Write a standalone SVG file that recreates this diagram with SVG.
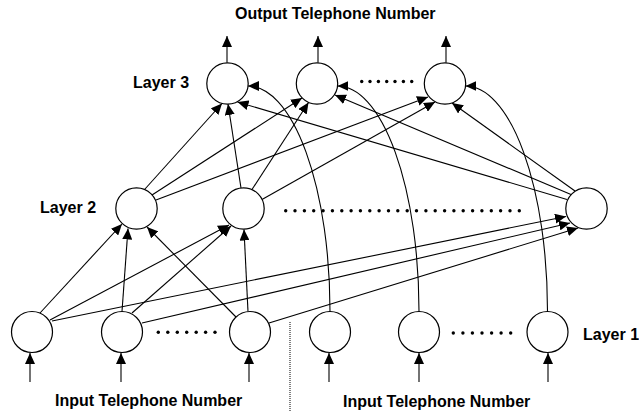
<svg xmlns="http://www.w3.org/2000/svg" width="639" height="414" viewBox="0 0 639 414">
<style>
.n{fill:#fff;stroke:#000;stroke-width:1.2}
.c{fill:none;stroke:#000;stroke-width:1.1;marker-end:url(#ah)}
.t{font-family:"Liberation Sans",Arial,sans-serif;font-weight:bold;font-size:16px;fill:#000}
.d{fill:#000}
</style>
<defs>
<marker id="ah" markerWidth="11" markerHeight="10" refX="11" refY="5" orient="auto" markerUnits="userSpaceOnUse"><path d="M0,0 L11,5 L0,10 z" fill="#000"/></marker>
</defs>
<rect width="639" height="414" fill="#fff"/>
<g id="connectors">
<!-- layer 1 to layer 2 -->
<line class="c" x1="40" y1="313" x2="122" y2="224"/>
<line class="c" x1="50" y1="320" x2="229" y2="225"/>
<line class="c" x1="52" y1="321" x2="566" y2="216.5"/>
<line class="c" x1="122" y1="311.5" x2="128" y2="228.5"/>
<line class="c" x1="132" y1="313" x2="231" y2="226"/>
<line class="c" x1="142" y1="323" x2="570" y2="223"/>
<line class="c" x1="236" y1="317" x2="147" y2="227"/>
<line class="c" x1="248" y1="311.5" x2="244" y2="229.5"/>
<line class="c" x1="269" y1="323" x2="578" y2="228"/>
<!-- layer 2 to layer 3 -->
<line class="c" x1="145" y1="189" x2="222" y2="103.5"/>
<line class="c" x1="152" y1="195" x2="302" y2="98"/>
<line class="c" x1="156" y1="200" x2="428" y2="97"/>
<line class="c" x1="241" y1="188" x2="228" y2="104"/>
<line class="c" x1="252" y1="189.5" x2="308.5" y2="102.5"/>
<line class="c" x1="262" y1="199.5" x2="435" y2="102"/>
<line class="c" x1="567" y1="199.5" x2="237.5" y2="102"/>
<line class="c" x1="571" y1="194.5" x2="335" y2="95"/>
<line class="c" x1="575" y1="191" x2="452" y2="103"/>
<!-- layer 1 (right) to layer 3 -->
<path class="c" d="M330,311.5 A82,225 0 0 0 248,86"/>
<path class="c" d="M419,311.5 A81.5,225 0 0 0 337.5,86"/>
<path class="c" d="M547.5,311.5 A82,225 0 0 0 465.5,86"/>
<!-- outputs -->
<line class="c" x1="227" y1="62.8" x2="227" y2="36"/>
<line class="c" x1="318" y1="62.8" x2="318" y2="36"/>
<line class="c" x1="446" y1="62.8" x2="446" y2="36"/>
<!-- inputs -->
<line class="c" x1="30" y1="382" x2="30" y2="353"/>
<line class="c" x1="121" y1="382" x2="121" y2="353"/>
<line class="c" x1="249" y1="382" x2="249" y2="353"/>
<line class="c" x1="329" y1="382" x2="329" y2="353"/>
<line class="c" x1="419" y1="382" x2="419" y2="353"/>
<line class="c" x1="548" y1="382" x2="548" y2="353"/>
<line x1="290" y1="322" x2="290" y2="412" stroke="#000" stroke-width="1" stroke-dasharray="1,1"/>
</g>
<g id="layer3">
<g id="e1"><circle class="n" cx="227.5" cy="83.5" r="20.7"/></g>
<g id="e2"><circle class="n" cx="317" cy="83.5" r="20.7"/></g>
<g id="e3"><circle class="n" cx="445" cy="83.5" r="20.7"/></g>
</g>
<g id="layer2">
<g id="d1"><circle class="n" cx="136.5" cy="208.5" r="20.7"/></g>
<g id="d2"><circle class="n" cx="243.5" cy="208.5" r="20.7"/></g>
<g id="d3"><circle class="n" cx="586.5" cy="208.5" r="20.7"/></g>
</g>
<g id="layer1">
<g id="c1"><circle class="n" cx="32" cy="332" r="20.5"/></g>
<g id="c2"><circle class="n" cx="122" cy="332" r="20.5"/></g>
<g id="c3"><circle class="n" cx="250" cy="332" r="20.5"/></g>
<g id="c4"><circle class="n" cx="330" cy="332" r="20.5"/></g>
<g id="c5"><circle class="n" cx="419" cy="332" r="20.5"/></g>
<g id="c6"><circle class="n" cx="547.5" cy="332" r="20.5"/></g>
</g>
<g id="dots">
<g class="d">
<circle cx="361.7" cy="81.5" r="1.7"/><circle cx="370" cy="81.5" r="1.7"/><circle cx="378.4" cy="81.5" r="1.7"/><circle cx="386.7" cy="81.5" r="1.7"/><circle cx="395" cy="81.5" r="1.7"/><circle cx="403.4" cy="81.5" r="1.7"/><circle cx="411.7" cy="81.5" r="1.7"/>
</g>
<g class="d">
<circle cx="285.7" cy="210.7" r="1.7"/><circle cx="295.0" cy="210.7" r="1.7"/><circle cx="304.4" cy="210.7" r="1.7"/><circle cx="313.7" cy="210.7" r="1.7"/><circle cx="323.1" cy="210.7" r="1.7"/><circle cx="332.4" cy="210.7" r="1.7"/><circle cx="341.8" cy="210.7" r="1.7"/><circle cx="351.1" cy="210.7" r="1.7"/><circle cx="360.4" cy="210.7" r="1.7"/><circle cx="369.8" cy="210.7" r="1.7"/><circle cx="379.1" cy="210.7" r="1.7"/><circle cx="388.5" cy="210.7" r="1.7"/><circle cx="397.8" cy="210.7" r="1.7"/><circle cx="407.2" cy="210.7" r="1.7"/><circle cx="416.5" cy="210.7" r="1.7"/><circle cx="425.9" cy="210.7" r="1.7"/><circle cx="435.2" cy="210.7" r="1.7"/><circle cx="444.6" cy="210.7" r="1.7"/><circle cx="453.9" cy="210.7" r="1.7"/><circle cx="463.2" cy="210.7" r="1.7"/><circle cx="472.6" cy="210.7" r="1.7"/><circle cx="481.9" cy="210.7" r="1.7"/><circle cx="491.3" cy="210.7" r="1.7"/><circle cx="500.6" cy="210.7" r="1.7"/><circle cx="510.0" cy="210.7" r="1.7"/><circle cx="519.3" cy="210.7" r="1.7"/>
</g>
<g class="d">
<circle cx="158.3" cy="332.3" r="1.7"/><circle cx="167.8" cy="332.3" r="1.7"/><circle cx="177.3" cy="332.3" r="1.7"/><circle cx="186.7" cy="332.3" r="1.7"/><circle cx="196.2" cy="332.3" r="1.7"/><circle cx="205.6" cy="332.3" r="1.7"/><circle cx="215" cy="332.3" r="1.7"/>
</g>
<g class="d">
<circle cx="453.3" cy="333" r="1.7"/><circle cx="462.9" cy="333" r="1.7"/><circle cx="472.4" cy="333" r="1.7"/><circle cx="482" cy="333" r="1.7"/><circle cx="491.6" cy="333" r="1.7"/><circle cx="501.1" cy="333" r="1.7"/><circle cx="510.7" cy="333" r="1.7"/>
</g>
</g>
<g id="labels">
<text class="t" x="235" y="18.5">Output Telephone Number</text>
<text class="t" x="133" y="88">Layer 3</text>
<text class="t" x="40" y="213">Layer 2</text>
<text class="t" x="583" y="340">Layer 1</text>
<text class="t" x="55" y="405.5">Input Telephone Number</text>
<text class="t" x="343" y="407">Input Telephone Number</text>
</g>
</svg>
